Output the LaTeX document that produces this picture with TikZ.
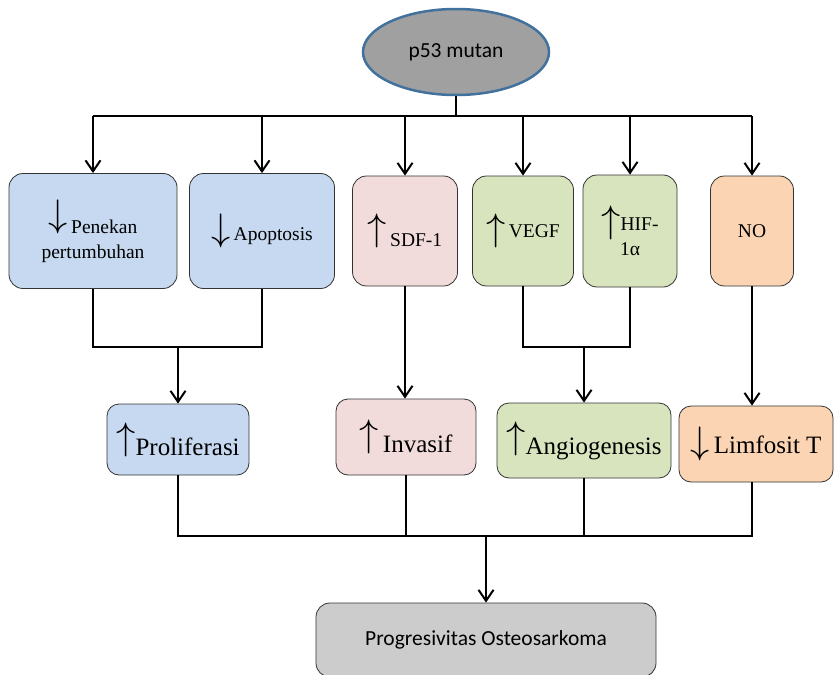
\documentclass[tikz,border=0pt]{standalone}
\usepackage{fontspec}
\setmainfont{Liberation Serif}
\newfontfamily\calibri{Carlito}
\usepackage{tikz}
\usetikzlibrary{arrows.meta}
\usetikzlibrary{shapes.geometric}

\definecolor{boxblue}{RGB}{198,217,240}
\definecolor{boxpink}{RGB}{242,220,219}
\definecolor{boxgreen}{RGB}{215,228,189}
\definecolor{boxorange}{RGB}{251,212,180}
\definecolor{boxgray}{RGB}{204,204,204}
\definecolor{ellgray}{RGB}{160,160,160}
\definecolor{ellblue}{RGB}{65,113,156}

\newcommand{\arup}{\scalebox{1.85}{\fontsize{19.5}{20}\selectfont$\uparrow$}}
\newcommand{\ardn}{\scalebox{1.85}{\fontsize{19.5}{20}\selectfont$\downarrow$}}

\tikzset{
	factor/.style={draw=black!80, line width=0.8pt, rounded corners=14pt, align=center, inner sep=2pt, font=\fontsize{19.5}{25}\selectfont},
	effect/.style={factor, rounded corners=12pt, font=\fontsize{25}{28}\selectfont},
	outcome/.style={draw=black!80, line width=0.8pt, fill=boxgray, rounded corners=14pt, font=\calibri\fontsize{21.5}{24}\selectfont}
}

\begin{document}
\begin{tikzpicture}[x=1pt,y=1pt,>={Straight Barb[length=11pt,width=15pt]},line width=2pt]
	\useasboundingbox (0,0) rectangle (834,-674);

	\node[ellipse, draw=ellblue, line width=2.5pt, fill=ellgray, minimum width=186pt, minimum height=86pt, font=\calibri\fontsize{21.5}{24}\selectfont] (mutan) at (456,-52) {p53 mutan};

	% first row
	\node[factor, fill=boxblue, minimum width=168pt, minimum height=115pt] (pen) at (93,-231) {\raisebox{7pt}{\ardn}\,Penekan\\pertumbuhan};
	\node[factor, fill=boxblue, minimum width=145pt, minimum height=115pt] (apo) [node distance=169pt, right of = pen] {\ardn\,Apoptosis};
	\node[factor, fill=boxpink, minimum width=105pt, minimum height=110pt] (sdf) [node distance=143pt, right of = apo] {\raisebox{6pt}{\arup}\,SDF-1};
	\node[factor, fill=boxgreen, minimum width=101pt, minimum height=110pt] (vegf) [node distance=118pt, right of = sdf] {\raisebox{-3pt}{\arup}\,VEGF};
	\node[factor, fill=boxgreen, minimum width=94pt, minimum height=112pt] (hif) [node distance=107pt, right of = vegf] {\raisebox{-2pt}{\arup}HIF-\\1α};
	\node[factor, fill=boxorange, minimum width=83pt, minimum height=110pt] (no) [node distance=122pt, right of = hif] {NO};

	% second row
	\node[effect, fill=boxblue, minimum width=142pt, minimum height=71pt] (prol) at (178,-439.5) {\raisebox{6pt}{\arup}Proliferasi};
	\node[effect, fill=boxpink, minimum width=140pt, minimum height=76pt] (inv) [node distance=228pt, right of = prol, yshift=2.5pt] {\raisebox{6pt}{\arup}\,Invasif};
	\node[effect, fill=boxgreen, minimum width=174pt, minimum height=75pt] (ang) [node distance=178pt, right of = inv, yshift=-3.5pt] {\raisebox{6pt}{\arup}Angiogenesis};
	\node[effect, fill=boxorange, minimum width=154pt, minimum height=76pt] (lim) [node distance=172pt, right of = ang, yshift=-3.5pt] {\ardn\,Limfosit T};

	\node[outcome, minimum width=340pt, minimum height=74pt] (prog) at (486,-640) {Progresivitas Osteosarkoma};

	\coordinate (bus) at (0,-116);
	\coordinate (join) at (0,-347);
	\coordinate (bus2) at (0,-536);

	\draw (mutan.south) -- (mutan.south |- bus);
	\draw (pen.north |- bus) -- (no.north |- bus);
	\path[->]	(pen.north |- bus) edge (pen.north)
			(apo.north |- bus) edge (apo.north)
			(sdf.north |- bus) edge (sdf.north)
			(vegf.north |- bus) edge (vegf.north)
			(hif.north |- bus) edge (hif.north)
			(no.north |- bus) edge (no.north);

	\draw (pen.south) |- (apo.south |- join) -- (apo.south);
	\draw[->] (prol.north |- join) -- (prol.north);
	\draw[->] (sdf.south) -- (sdf.south |- inv.north);
	\draw (vegf.south) |- (hif.south |- join) -- (hif.south);
	\draw[->] (ang.north |- join) -- (ang.north);
	\draw[->] (no.south) -- (no.south |- lim.north);

	\draw (prol.south) |- (no.south |- bus2) -- (no.south |- lim.south);
	\draw (inv.south) -- (inv.south |- bus2);
	\draw (ang.south) -- (ang.south |- bus2);
	\draw[->] (prog.north |- bus2) -- (prog.north);
\end{tikzpicture}
\end{document}
